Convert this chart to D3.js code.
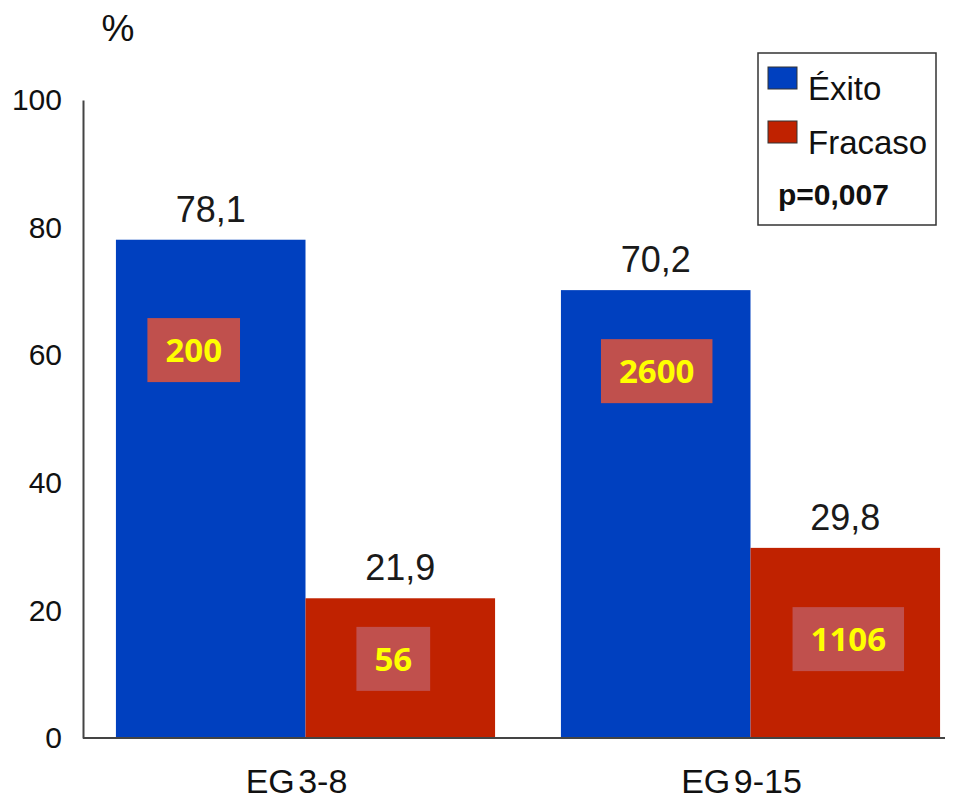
<!DOCTYPE html>
<html>
<head>
<meta charset="utf-8">
<script src="https://cdn.jsdelivr.net/npm/d3@7"></script>
<style>
  body { margin: 0; background: #fff; }
  svg text { font-family: "Liberation Sans", Arial, sans-serif; }
</style>
</head>
<body>
<div id="chart"></div>
<script>
// data
var groups = ["EG 3-8", "EG 9-15"];
var series = ["Éxito", "Fracaso"];
var percents = [[78.1, 21.9], [70.2, 29.8]];
var counts = [[200, 56], [2600, 1106]];
var yTicks = [0, 20, 40, 60, 80, 100];
var pValue = "p=0,007";

// where the count boxes sit (dx from bar centre in px, y in % units)
var boxAt = [[[-17, 60.8], [-7, 12.4]], [[1, 57.5], [3, 15.5]]];

var width = 960, height = 802;
var colors = {"Éxito": "#0040bf", "Fracaso": "#c02200"};

var svg = d3.select("#chart").append("svg")
  .attr("width", width)
  .attr("height", height);

var y = d3.scaleLinear().domain([0, 100]).range([738, 100]);

var x0 = d3.scaleBand()
  .domain(groups)
  .range([83, 973])
  .paddingInner(0.148)
  .paddingOuter(0.074);

var x1 = d3.scaleBand()
  .domain(series)
  .range([0, x0.bandwidth()]);

var fmt = function (v) { return d3.format(".1f")(v).replace(".", ","); };

// bars
var g = svg.selectAll("g.grp")
  .data(groups)
  .enter().append("g")
  .attr("class", "grp")
  .attr("transform", function (d) { return "translate(" + x0(d) + ",0)"; });

g.each(function (grp, gi) {
  var sel = d3.select(this);
  series.forEach(function (s, si) {
    var v = percents[gi][si];
    var bx = x1(s), bw = x1.bandwidth();
    sel.append("rect")
      .attr("x", bx)
      .attr("y", y(v))
      .attr("width", bw)
      .attr("height", y(0) - y(v))
      .attr("fill", colors[s]);

    sel.append("text")
      .attr("x", bx + bw / 2)
      .attr("y", y(v) - 18)
      .attr("text-anchor", "middle")
      .attr("font-size", 36)
      .attr("fill", "#1a1a1a")
      .text(fmt(v));

    // count box
    var pos = boxAt[gi][si];
    var cx = bx + bw / 2 + pos[0], cy = y(pos[1]);
    var box = sel.append("rect").attr("fill", "#c0504d");
    var t = sel.append("text")
      .attr("x", cx)
      .attr("y", cy)
      .attr("dy", "0.36em")
      .attr("text-anchor", "middle")
      .style("font-family", "'Open Sans', sans-serif")
      .attr("font-weight", 700)
      .attr("font-size", 33)
      .attr("fill", "#ffff00")
      .text(counts[gi][si]);
    var tw = t.node().getComputedTextLength();
    box.attr("x", cx - tw / 2 - 18)
      .attr("y", cy - 32)
      .attr("width", tw + 36)
      .attr("height", 64);
  });
});

// axes
var yAxis = d3.axisLeft(y).tickValues(yTicks).tickSize(0).tickPadding(21);
var ya = svg.append("g")
  .attr("transform", "translate(83,0)")
  .call(yAxis);
ya.select(".domain").attr("stroke", "#444").attr("stroke-width", 2);
ya.selectAll("text")
  .attr("font-size", 30)
  .attr("fill", "#111")
  .style("font-family", "'Liberation Sans', Arial, sans-serif");

svg.append("line")
  .attr("x1", 83).attr("x2", 945)
  .attr("y1", y(0)).attr("y2", y(0))
  .attr("stroke", "#444")
  .attr("stroke-width", 2);

svg.selectAll("text.cat")
  .data(groups)
  .enter().append("text")
  .attr("class", "cat")
  .attr("x", function (d) { return x0(d) + x0.bandwidth() / 2 - 9; })
  .attr("y", 793)
  .attr("text-anchor", "middle")
  .attr("font-size", 34)
  .attr("word-spacing", -6)
  .attr("fill", "#111")
  .text(function (d) { return d; });

svg.append("text")
  .attr("x", 118)
  .attr("y", 41)
  .attr("text-anchor", "middle")
  .attr("font-size", 37)
  .attr("fill", "#111")
  .text("%");

// legend
var lg = svg.append("g").attr("transform", "translate(758,53)");
lg.append("rect")
  .attr("width", 178)
  .attr("height", 172)
  .attr("fill", "#fff")
  .attr("stroke", "#333")
  .attr("stroke-width", 1.5);

var li = lg.selectAll("g.li")
  .data(series)
  .enter().append("g")
  .attr("class", "li")
  .attr("transform", function (d, i) { return "translate(10," + (14 + i * 54) + ")"; });

li.append("rect")
  .attr("width", 29)
  .attr("height", 22)
  .attr("fill", function (d) { return colors[d]; })
  .attr("stroke", "#333")
  .attr("stroke-width", 1);

li.append("text")
  .attr("x", 40)
  .attr("y", 33)
  .attr("font-size", 33)
  .attr("fill", "#111")
  .text(function (d) { return d; });

lg.append("text")
  .attr("x", 20)
  .attr("y", 152)
  .attr("font-size", 30)
  .attr("font-weight", 700)
  .attr("fill", "#111")
  .text(pValue);
</script>
</body>
</html>
